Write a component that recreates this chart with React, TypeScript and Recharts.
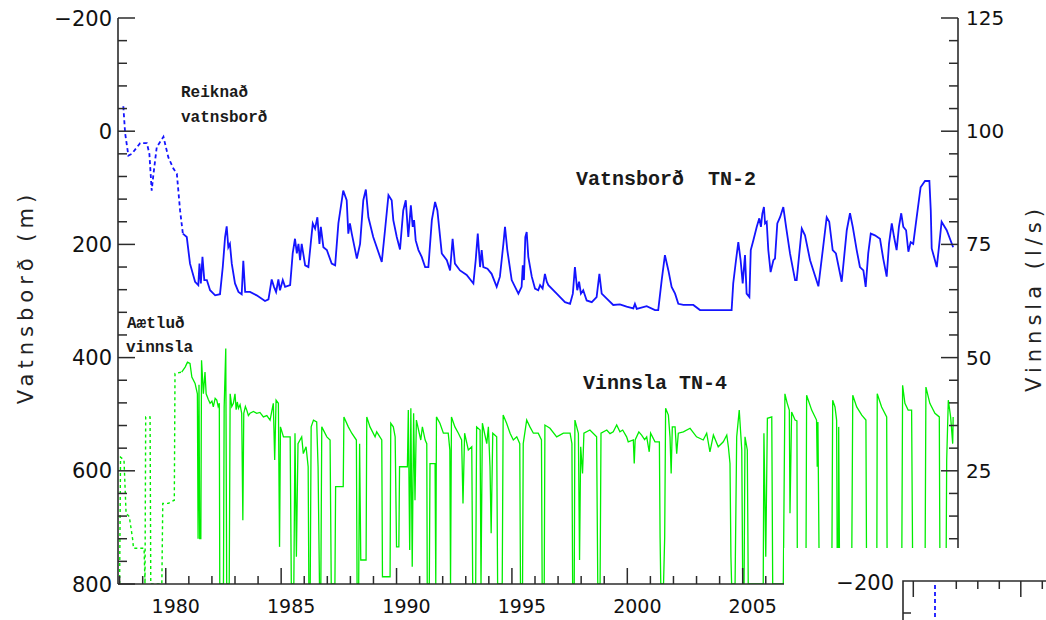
import { LineChart, Line, XAxis, YAxis } from "recharts";

// Reiknað vatnsborð (m), ár / dýpi
const reiknadVatnsbord: [number, number][] = [
  [1978.16, -44], [1978.24, 4], [1978.38, 43], [1978.53, 40], [1978.89, 21], [1979.18, 21],
  [1979.29, 40], [1979.39, 105], [1979.46, 78], [1979.61, 28], [1979.9, 10], [1980.11, 46],
  [1980.33, 66], [1980.48, 75], [1980.62, 140], [1980.74, 181],
];

// Mælt vatnsborð í TN-2 (m)
const vatnsbordTN2: [number, number][] = [
  [1980.74, 181], [1980.91, 187], [1981.05, 234], [1981.27, 266], [1981.41, 272], [1981.46, 234],
  [1981.52, 269], [1981.59, 222], [1981.67, 263], [1981.78, 263], [1981.92, 281], [1982.14, 290],
  [1982.35, 288], [1982.47, 240], [1982.57, 187], [1982.64, 168], [1982.71, 205], [1982.78, 199],
  [1982.86, 234], [1983.0, 269], [1983.15, 284], [1983.29, 288], [1983.36, 229], [1983.44, 284],
  [1983.65, 284], [1983.94, 290], [1984.3, 300], [1984.45, 297], [1984.59, 262], [1984.69, 275],
  [1984.78, 284], [1984.88, 262], [1984.95, 281], [1985.07, 263], [1985.17, 275], [1985.39, 272],
  [1985.5, 216], [1985.6, 190], [1985.68, 216], [1985.75, 199], [1985.82, 228], [1985.89, 199],
  [1986.04, 237], [1986.18, 240], [1986.28, 199], [1986.37, 163], [1986.47, 172], [1986.57, 152],
  [1986.66, 199], [1986.72, 169], [1986.83, 205], [1986.98, 210], [1987.19, 234], [1987.34, 237],
  [1987.48, 163], [1987.69, 105], [1987.84, 122], [1987.91, 181], [1987.98, 163], [1988.06, 181],
  [1988.28, 225], [1988.42, 199], [1988.56, 122], [1988.67, 103], [1988.78, 152], [1988.99, 187],
  [1989.36, 231], [1989.5, 175], [1989.65, 113], [1989.79, 122], [1989.86, 157], [1990.01, 187],
  [1990.15, 209], [1990.29, 140], [1990.4, 122], [1990.51, 187], [1990.62, 131], [1990.7, 169],
  [1990.76, 157], [1990.83, 193], [1990.95, 210], [1991.09, 222], [1991.24, 240], [1991.38, 240],
  [1991.53, 157], [1991.67, 125], [1991.77, 140], [1991.96, 216], [1992.18, 228], [1992.32, 246],
  [1992.43, 190], [1992.53, 234], [1992.75, 246], [1993.04, 254], [1993.33, 269], [1993.43, 228],
  [1993.52, 181], [1993.62, 240], [1993.69, 210], [1993.76, 240], [1993.94, 243], [1994.12, 252],
  [1994.34, 275], [1994.48, 257], [1994.63, 199], [1994.7, 169], [1994.8, 210], [1994.99, 263],
  [1995.28, 287], [1995.42, 275], [1995.47, 237], [1995.52, 263], [1995.58, 187], [1995.64, 178],
  [1995.71, 222], [1995.86, 257], [1996.0, 278], [1996.14, 281], [1996.22, 272], [1996.33, 278],
  [1996.43, 252], [1996.51, 266], [1996.58, 272], [1996.94, 287], [1997.3, 302], [1997.52, 305],
  [1997.64, 287], [1997.73, 240], [1997.83, 281], [1997.91, 266], [1997.99, 287], [1998.09, 281],
  [1998.24, 299], [1998.46, 302], [1998.67, 293], [1998.79, 252], [1998.89, 287], [1999.11, 296],
  [1999.39, 307], [1999.68, 306], [1999.97, 310], [2000.26, 313], [2000.33, 305], [2000.41, 314],
  [2000.84, 309], [2001.2, 316], [2001.34, 316], [2001.49, 263], [2001.63, 219], [2001.78, 246],
  [2001.92, 275], [2002.07, 287], [2002.21, 305], [2002.43, 307], [2002.86, 307], [2003.15, 316],
  [2003.58, 316], [2004.52, 316], [2004.59, 269], [2004.71, 228], [2004.81, 196], [2004.91, 228],
  [2005.0, 269], [2005.1, 219], [2005.17, 287], [2005.29, 293], [2005.35, 210], [2005.46, 193],
  [2005.61, 169], [2005.72, 154], [2005.79, 169], [2005.85, 146], [2005.92, 134], [2005.97, 163],
  [2006.04, 160], [2006.11, 210], [2006.21, 249], [2006.33, 228], [2006.4, 225], [2006.5, 163],
  [2006.62, 152], [2006.76, 134], [2006.88, 169], [2007.05, 216], [2007.27, 263], [2007.34, 263],
  [2007.56, 172], [2007.7, 184], [2007.92, 228], [2008.28, 274], [2008.47, 210], [2008.64, 152],
  [2008.75, 160], [2008.9, 210], [2009.04, 216], [2009.29, 266], [2009.51, 175], [2009.65, 145],
  [2009.77, 169], [2009.94, 210], [2010.08, 240], [2010.23, 246], [2010.33, 275], [2010.44, 216],
  [2010.55, 181], [2010.73, 184], [2010.95, 190], [2011.09, 225], [2011.24, 257], [2011.34, 199],
  [2011.46, 163], [2011.56, 187], [2011.67, 210], [2011.77, 169], [2011.87, 145], [2011.96, 169],
  [2012.08, 175], [2012.18, 213], [2012.28, 196], [2012.39, 199], [2012.54, 152], [2012.71, 99],
  [2012.9, 88], [2013.09, 88], [2013.15, 140], [2013.19, 207], [2013.29, 222], [2013.41, 240],
  [2013.52, 199], [2013.62, 160], [2013.84, 175], [2014.12, 205],
];

// Áætluð vinnsla (l/s)
const aaetludVinnsla: [number, number][] = [
  [1978.0, 0], [1978.04, 28], [1978.19, 27.4], [1978.28, 15.6], [1978.42, 14.9], [1978.57, 9.7],
  [1978.6, 7.9], [1979.06, 7.9], [1979.1, 0], [1979.13, 36.9], [1979.32, 36.9], [1979.35, 0],
  [1979.83, 0], [1979.87, 17.8], [1980.11, 17.8], [1980.37, 18.5], [1980.4, 46.5], [1980.69, 46.8],
];

// Vinnsla úr TN-4 (l/s)
const vinnslaTN4: [number, number][] = [
  [1980.69, 46.8], [1980.84, 47.9], [1980.94, 49], [1981.05, 48.7], [1981.13, 45.7], [1981.27, 44.3],
  [1981.37, 42], [1981.4, 10], [1981.44, 44], [1981.47, 10], [1981.52, 10], [1981.55, 49.4],
  [1981.63, 42], [1981.7, 46.8], [1981.75, 42], [1981.84, 40.8], [1981.92, 39.9], [1982.0, 40.4],
  [1982.06, 39.1], [1982.14, 41], [1982.21, 40.6], [1982.27, 39.2], [1982.32, 39.9], [1982.34, 0],
  [1982.5, 0], [1982.53, 39], [1982.6, 52], [1982.64, 0], [1982.75, 0], [1982.79, 42],
  [1982.86, 39.2], [1982.93, 39.9], [1983.0, 42], [1983.05, 38.5], [1983.1, 40.2], [1983.15, 38.8],
  [1983.22, 39.6], [1983.29, 37.7], [1983.34, 14.1], [1983.38, 37.7], [1983.45, 39.2], [1983.51, 38.4],
  [1983.58, 37.2], [1983.65, 37.7], [1983.8, 38.1], [1983.94, 37.7], [1984.08, 37.9], [1984.23, 36.9],
  [1984.38, 37.2], [1984.52, 36.2], [1984.66, 39.9], [1984.72, 27.4], [1984.78, 40.6], [1984.88, 39.9],
  [1984.93, 8.2], [1984.97, 34.7], [1985.1, 32.5], [1985.39, 32.5], [1985.44, 0], [1985.55, 0],
  [1985.6, 33.3], [1985.66, 6], [1985.73, 31], [1985.89, 32.5], [1985.96, 28.8], [1986.08, 30.3],
  [1986.17, 25.9], [1986.2, 0], [1986.26, 0], [1986.3, 34.7], [1986.4, 36.2], [1986.54, 35.8],
  [1986.6, 25.9], [1986.66, 0], [1986.72, 0], [1986.76, 34.7], [1986.98, 32.5], [1987.12, 31.8],
  [1987.17, 0], [1987.33, 0], [1987.36, 21.5], [1987.69, 21.5], [1987.72, 36.9], [1987.91, 34.7],
  [1988.06, 33.3], [1988.26, 31.8], [1988.29, 0], [1988.36, 0], [1988.4, 31], [1988.45, 5.3],
  [1988.68, 5.3], [1988.71, 36.9], [1988.85, 34.7], [1989.07, 32.5], [1989.14, 33.6], [1989.36, 31.8],
  [1989.39, 1.6], [1989.72, 1.6], [1989.75, 35.5], [1989.86, 34.7], [1989.94, 32.5], [1990.0, 8.2],
  [1990.1, 8.2], [1990.13, 25.9], [1990.47, 25.9], [1990.51, 38.4], [1990.57, 7.5], [1990.62, 38.8],
  [1990.68, 3.8], [1990.74, 37.7], [1990.8, 18.5], [1990.86, 36.2], [1991.05, 31.8], [1991.12, 34.7],
  [1991.24, 31.8], [1991.31, 31], [1991.33, 0], [1991.42, 0], [1991.45, 26.6], [1991.67, 26.6],
  [1991.7, 0], [1991.73, 36.9], [1991.88, 35.5], [1992.03, 33.3], [1992.24, 33.3], [1992.31, 29.6],
  [1992.34, 0], [1992.38, 36.9], [1992.53, 34.7], [1992.68, 33.3], [1992.82, 31.8], [1992.88, 17.8],
  [1992.95, 33.3], [1993.11, 29.6], [1993.26, 30.3], [1993.3, 0], [1993.43, 0], [1993.47, 34.7],
  [1993.62, 34], [1993.66, 0], [1993.72, 35.5], [1993.91, 31], [1993.98, 34.7], [1994.05, 25.9],
  [1994.1, 11.2], [1994.17, 33.3], [1994.34, 32.5], [1994.38, 0], [1994.58, 0], [1994.62, 37.3],
  [1994.77, 35.5], [1994.92, 33.3], [1995.06, 31.8], [1995.21, 32.5], [1995.34, 31], [1995.37, 0],
  [1995.46, 0], [1995.49, 31], [1995.64, 36.2], [1995.78, 34.7], [1995.93, 33.3], [1996.14, 33.3],
  [1996.28, 31.8], [1996.31, 0], [1996.4, 0], [1996.43, 35.1], [1996.65, 34.4], [1996.94, 32.5],
  [1997.23, 33.3], [1997.52, 33.3], [1997.6, 31], [1997.63, 0], [1997.7, 0], [1997.73, 36.2],
  [1997.88, 33.3], [1997.93, 5.3], [1997.98, 30.3], [1998.06, 24.4], [1998.12, 33.3], [1998.38, 34],
  [1998.67, 32.5], [1998.72, 0], [1998.82, 0], [1998.86, 33.3], [1999.11, 34], [1999.25, 33.2],
  [1999.39, 33.6], [1999.54, 35.1], [1999.68, 33.6], [1999.8, 34], [1999.97, 32.5], [2000.04, 31.4],
  [2000.26, 31.8], [2000.3, 26.6], [2000.34, 31.8], [2000.5, 33.6], [2000.62, 32.9], [2000.75, 31.9],
  [2000.84, 32.5], [2000.95, 29.2], [2001.01, 33.3], [2001.2, 31.4], [2001.39, 31.4], [2001.42, 10.4],
  [2001.45, 0], [2001.57, 0], [2001.62, 10.4], [2001.66, 38.8], [2001.78, 37.3], [2001.85, 32.5],
  [2001.9, 24.4], [2001.95, 34.7], [2002.07, 34.7], [2002.14, 28.8], [2002.21, 33.3], [2002.43, 33.6],
  [2002.72, 34.4], [2003.0, 32.5], [2003.29, 31.8], [2003.44, 33.3], [2003.58, 29.2], [2003.73, 32.9],
  [2003.94, 30.3], [2004.16, 31.4], [2004.31, 32.9], [2004.38, 30.3], [2004.45, 26.6], [2004.49, 6],
  [2004.52, 0], [2004.67, 0], [2004.74, 32.5], [2004.85, 38.4], [2004.96, 29.6], [2005.0, 0],
  [2005.06, 0], [2005.1, 32.5], [2005.2, 29.6], [2005.24, 0], [2005.89, 0], [2005.92, 33.3],
  [2006.0, 6], [2006.07, 36.6], [2006.26, 36.9], [2006.3, 0], [2006.76, 0], [2006.83, 42],
  [2006.93, 39.9], [2007.02, 38.4], [2007.05, 15.6], [2007.12, 38], [2007.27, 36.2], [2007.35, 36],
  [2007.37, 0], [2007.74, 0], [2007.77, 41.7], [2007.99, 38.4], [2008.2, 36.2], [2008.23, 25.9],
  [2008.26, 35.8], [2008.32, 0], [2008.86, 0], [2008.9, 40.6], [2009.0, 39.1], [2009.07, 36.2],
  [2009.1, 0], [2009.14, 0], [2009.16, 34.7], [2009.2, 0], [2009.72, 0], [2009.77, 41.7],
  [2009.94, 39.1], [2010.16, 37.3], [2010.34, 36.2], [2010.37, 0], [2010.81, 0], [2010.83, 42],
  [2011.02, 39.1], [2011.24, 36.9], [2011.26, 0], [2011.89, 0], [2011.93, 43.9], [2012.03, 39.9],
  [2012.17, 38.4], [2012.32, 38.4], [2012.37, 0], [2012.9, 0], [2012.94, 43.5], [2013.11, 39.9],
  [2013.33, 37.7], [2013.52, 36.9], [2013.55, 0], [2013.81, 0], [2013.84, 27.4], [2013.91, 40.6],
  [2014.01, 36.9], [2014.1, 31], [2014.12, 36.9],
];

const yearLabels = [1980, 1985, 1990, 1995, 2000, 2005, 2010];
const levelLabels = [-200, 0, 200, 400, 600, 800];
const flowLabels = [0, 25, 50, 75, 100, 125];

const yearTicks = Array.from({ length: 37 }, (_, i) => 1978 + i);
const levelTicks = Array.from({ length: 26 }, (_, i) => -200 + i * 40);
const flowTicks = Array.from({ length: 26 }, (_, i) => i * 5);

const toRows = (pts: [number, number][]) => pts.map(([year, v]) => ({ year, v }));

const FRAME = "#2b2b2b";
const BLUE = "#1414ff";
const GREEN = "#00ee00";
const MONO = "'Liberation Mono', 'DejaVu Sans Mono', monospace";
const SANS = "'DejaVu Sans', sans-serif";

const fmt = (v: number) => (v < 0 ? "\u2212" + Math.abs(v) : String(v));

const BottomTick = ({ x, y, payload }: any) => {
  const major = yearLabels.includes(payload.value);
  return (
    <g>
      <line x1={x} y1={y} x2={x} y2={y - (major ? 16 : 8)} stroke={FRAME} strokeWidth={1.5} />
      {major && (
        <text x={x + 10} y={y + 29} textAnchor="middle" fontFamily={SANS} fontSize={19} fill="#111">
          {payload.value}
        </text>
      )}
    </g>
  );
};

const TopTick = ({ x, y, payload }: any) => {
  const major = yearLabels.includes(payload.value);
  return <line x1={x} y1={y} x2={x} y2={y + (major ? 16 : 8)} stroke={FRAME} strokeWidth={1.5} />;
};

const LeftTick = ({ x, y, payload }: any) => {
  const major = levelLabels.includes(payload.value);
  return (
    <g>
      <line x1={x} y1={y} x2={x + (major ? 17 : 9)} y2={y} stroke={FRAME} strokeWidth={1.5} />
      {major && (
        <text x={x - 6} y={y + 7.5} textAnchor="end" fontFamily={SANS} fontSize={21} fill="#111">
          {fmt(payload.value)}
        </text>
      )}
    </g>
  );
};

const RightTick = ({ x, y, payload }: any) => {
  const major = flowLabels.includes(payload.value);
  return (
    <g>
      <line x1={x} y1={y} x2={x - (major ? 17 : 9)} y2={y} stroke={FRAME} strokeWidth={1.5} />
      {major && (
        <text x={x + 8} y={y + 7} textAnchor="start" fontFamily={SANS} fontSize={20} fill="#111">
          {payload.value}
        </text>
      )}
    </g>
  );
};

const monoText = { fontFamily: MONO, fontWeight: 700, fill: "#1a1a1a" } as const;

export default function App() {
  return (
    <div style={{ position: "absolute", left: 0, top: 0, width: 1046, height: 620, background: "#fff" }}>
      <LineChart width={1046} height={620} margin={{ top: 18, right: 28, bottom: 6, left: 58 }}>
        <XAxis
          dataKey="year"
          type="number"
          domain={[1977.93, 2014.33]}
          allowDataOverflow
          ticks={yearTicks}
          interval={0}
          tickSize={0}
          tickMargin={0}
          tickLine={false}
          height={30}
          axisLine={{ stroke: FRAME, strokeWidth: 1.6 }}
          tick={BottomTick}
        />
        <XAxis
          xAxisId="top"
          dataKey="year"
          type="number"
          orientation="top"
          domain={[1977.93, 2014.33]}
          allowDataOverflow
          ticks={yearTicks}
          interval={0}
          tickSize={0}
          tickMargin={0}
          tickLine={false}
          height={0}
          axisLine={{ stroke: FRAME, strokeWidth: 1.6 }}
          tick={TopTick}
        />
        <YAxis
          yAxisId="m"
          type="number"
          reversed
          domain={[-200, 800]}
          allowDataOverflow
          ticks={levelTicks}
          interval={0}
          tickSize={0}
          tickMargin={0}
          tickLine={false}
          width={60}
          axisLine={{ stroke: FRAME, strokeWidth: 1.6 }}
          tick={LeftTick}
        />
        <YAxis
          yAxisId="q"
          type="number"
          orientation="right"
          domain={[0, 125]}
          allowDataOverflow
          ticks={flowTicks}
          interval={0}
          tickSize={0}
          tickMargin={0}
          tickLine={false}
          width={60}
          axisLine={{ stroke: FRAME, strokeWidth: 1.6 }}
          tick={RightTick}
        />
        <Line
          yAxisId="q"
          data={toRows(aaetludVinnsla)}
          dataKey="v"
          type="linear"
          stroke={GREEN}
          strokeWidth={1.4}
          strokeDasharray="3 3"
          dot={false}
          isAnimationActive={false}
        />
        <Line
          yAxisId="q"
          data={toRows(vinnslaTN4)}
          dataKey="v"
          type="linear"
          stroke={GREEN}
          strokeWidth={1.3}
          dot={false}
          isAnimationActive={false}
        />
        <Line
          yAxisId="m"
          data={toRows(reiknadVatnsbord)}
          dataKey="v"
          type="linear"
          stroke={BLUE}
          strokeWidth={1.8}
          strokeDasharray="4 3"
          dot={false}
          isAnimationActive={false}
        />
        <Line
          yAxisId="m"
          data={toRows(vatnsbordTN2)}
          dataKey="v"
          type="linear"
          stroke={BLUE}
          strokeWidth={1.8}
          dot={false}
          isAnimationActive={false}
        />
      </LineChart>

      {/* titles, series notes and the pasted corner patch */}
      <svg width={1046} height={620} style={{ position: "absolute", left: 0, top: 0, pointerEvents: "none" }}>
        <text
          transform="translate(33,297) rotate(-90)"
          textAnchor="middle"
          fontFamily={SANS}
          fontSize={21}
          letterSpacing={5}
          fill="#222"
        >
          Vatnsborð (m)
        </text>
        <text
          transform="translate(1041,298) rotate(-90)"
          textAnchor="middle"
          fontFamily={SANS}
          fontSize={21}
          letterSpacing={5}
          fill="#222"
        >
          Vinnsla (l/s)
        </text>

        <text x={181} y={97} fontSize={16} {...monoText}>Reiknað</text>
        <text x={181} y={122} fontSize={16} {...monoText}>vatnsborð</text>
        <text x={576} y={185} fontSize={20} {...monoText} xmlSpace="preserve">Vatnsborð  TN-2</text>
        <text x={127} y={328} fontSize={16} {...monoText}>Aætluð</text>
        <text x={126} y={352} fontSize={16} {...monoText}>vinnsla</text>
        <text x={583} y={389} fontSize={20} {...monoText}>Vinnsla TN-4</text>

        <rect x={784} y={548} width={262} height={72} fill="#fff" />
        <text x={894} y={590} textAnchor="end" fontFamily={SANS} fontSize={21} fill="#111">
          {"\u2212200"}
        </text>
        <path d="M903 620 V581 H1046" fill="none" stroke={FRAME} strokeWidth={1.6} />
        <path
          d="M913.3 581 V597 M956.3 581 V589 M977.8 581 V589 M999.3 581 V589 M1020.8 581 V597 M1042.3 581 V589 M903 613 H911"
          stroke={FRAME}
          strokeWidth={1.5}
        />
        <path d="M935 585 V620" stroke={BLUE} strokeWidth={1.8} strokeDasharray="4 3" />
      </svg>
    </div>
  );
}
